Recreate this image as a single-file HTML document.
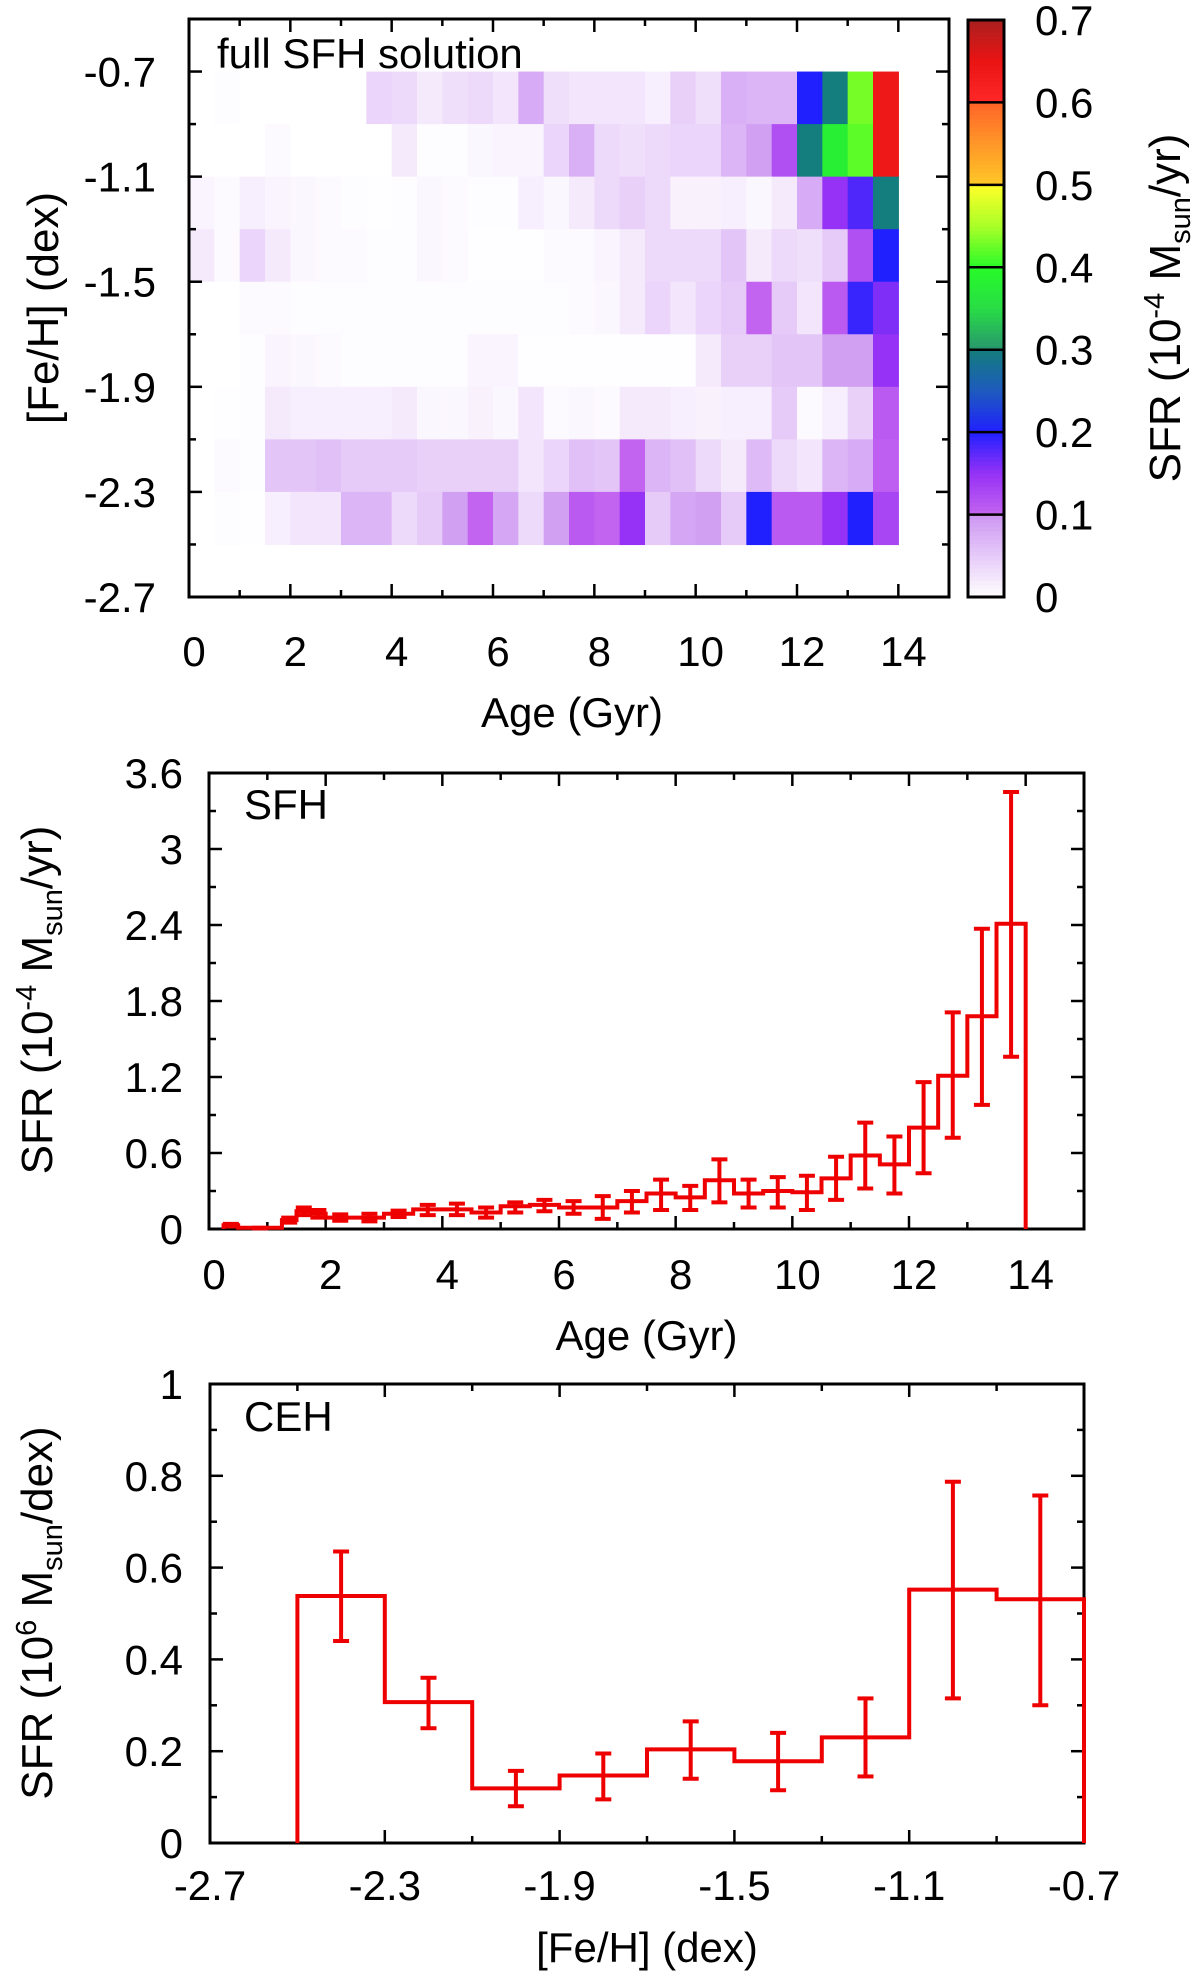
<!DOCTYPE html>
<html><head><meta charset="utf-8"><style>
html,body{margin:0;padding:0;background:#fff;}
svg{display:block;font-family:"Liberation Sans",Arial,sans-serif;}
</style></head><body>
<svg id="fig" width="1200" height="1975" viewBox="0 0 1200 1975" xmlns="http://www.w3.org/2000/svg"></svg>
<script>
// ---------- Panel 1: heatmap data (rows top -> bottom: [Fe/H] -0.7..-0.9 ... -2.3..-2.5; cols 0.5 Gyr bins from 0) ----------
const hmRowTops = [-0.7,-0.9,-1.1,-1.3,-1.5,-1.7,-1.9,-2.1,-2.3];
const hmAgeStart = [0,0.5,1,1.5,2,2.5,3,3.5,4,4.5,5,5.5,6,6.5,7,7.5,8,8.5,9,9.5,10,10.5,11,11.5,12,12.5,13,13.5];
const hmRow0 = [0,0.003,0,0,0,0,0,0.04,0.035,0.02,0.03,0.035,0.025,0.08,0.03,0.025,0.025,0.025,0.015,0.045,0.03,0.075,0.07,0.07,0.2,0.3,0.43,0.64];
const hmRow1 = [0,0,0,0.005,0,0,0,0,0.02,0.003,0.003,0.008,0.01,0.01,0.04,0.075,0.035,0.03,0.035,0.04,0.04,0.07,0.09,0.12,0.3,0.38,0.42,0.64];
const hmRow2 = [0.01,0.005,0.015,0.01,0.008,0.005,0.003,0.002,0.003,0.008,0.005,0.003,0.003,0.015,0.008,0.02,0.035,0.045,0.035,0.012,0.012,0.015,0.008,0.02,0.08,0.15,0.18,0.3];
const hmRow3 = [0.02,0.005,0.04,0.02,0.008,0.005,0.005,0.003,0.003,0.008,0.005,0.002,0.002,0.002,0.005,0.005,0.01,0.02,0.035,0.035,0.035,0.055,0.02,0.035,0.03,0.05,0.12,0.2];
const hmRow4 = [0,0,0.005,0.005,0.003,0.003,0.003,0.003,0.003,0.003,0.003,0.003,0.003,0.003,0.003,0.005,0.008,0.02,0.04,0.025,0.04,0.05,0.1,0.05,0.025,0.11,0.19,0.16];
const hmRow5 = [0,0,0.003,0.01,0.008,0.005,0.003,0.003,0.003,0.003,0.003,0.01,0.01,0.002,0.002,0.002,0.002,0.002,0.002,0.002,0.02,0.045,0.045,0.055,0.055,0.09,0.09,0.15];
const hmRow6 = [0,0.002,0.003,0.02,0.015,0.015,0.015,0.015,0.02,0.008,0.008,0.012,0.008,0.025,0.005,0.008,0.005,0.02,0.02,0.015,0.012,0.015,0.015,0.05,0.005,0.015,0.045,0.11];
const hmRow7 = [0,0.005,0.003,0.055,0.055,0.06,0.05,0.05,0.05,0.045,0.045,0.045,0.045,0.025,0.04,0.06,0.055,0.1,0.07,0.06,0.035,0.02,0.065,0.035,0.025,0.07,0.08,0.105];
const hmRow8 = [0,0.003,0.002,0.015,0.025,0.025,0.07,0.07,0.035,0.05,0.09,0.1,0.085,0.035,0.09,0.11,0.1,0.15,0.05,0.085,0.09,0.05,0.2,0.11,0.11,0.15,0.2,0.13];
const hmRows = [hmRow0,hmRow1,hmRow2,hmRow3,hmRow4,hmRow5,hmRow6,hmRow7,hmRow8];
const p1XTicks = [0,2,4,6,8,10,12,14];
const p1YTicks = [-0.7,-1.1,-1.5,-1.9,-2.3,-2.7];
const cbTicks = [0,0.1,0.2,0.3,0.4,0.5,0.6,0.7];

// ---------- Panel 2: SFH ----------
const sfhLo  = [0.25,0.5,1.25,1.5,1.75,2,2.5,3,3.5,4,4.5,5,5.5,6,6.5,7,7.5,8,8.5,9,9.5,10,10.5,11,11.5,12,12.5,13,13.5];
const sfhHi  = [0.5,1.25,1.5,1.75,2,2.5,3,3.5,4,4.5,5,5.5,6,6.5,7,7.5,8,8.5,9,9.5,10,10.5,11,11.5,12,12.5,13,13.5,14];
const sfhVal = [0.03,0.01,0.07,0.14,0.12,0.09,0.09,0.12,0.155,0.155,0.13,0.18,0.19,0.17,0.17,0.22,0.28,0.25,0.385,0.28,0.30,0.29,0.40,0.58,0.51,0.80,1.21,1.68,2.41];
const sfhErrHi = [0.04,0.01,0.09,0.17,0.15,0.115,0.12,0.145,0.19,0.20,0.17,0.21,0.23,0.22,0.26,0.30,0.39,0.34,0.55,0.39,0.41,0.42,0.57,0.84,0.73,1.16,1.71,2.37,3.45];
const sfhErrLo = [0.02,0.005,0.05,0.11,0.09,0.065,0.06,0.095,0.11,0.11,0.09,0.13,0.14,0.12,0.08,0.13,0.15,0.15,0.21,0.17,0.17,0.15,0.23,0.32,0.28,0.44,0.72,0.98,1.36];
const p2XTicks = [0,2,4,6,8,10,12,14];
const p2YTicks = [0,0.6,1.2,1.8,2.4,3,3.6];
const p2YLabels = ["0","0.6","1.2","1.8","2.4","3","3.6"];

// ---------- Panel 3: CEH ----------
const cehLo  = [-2.5,-2.3,-2.1,-1.9,-1.7,-1.5,-1.3,-1.1,-0.9];
const cehVal = [0.538,0.307,0.119,0.147,0.204,0.178,0.23,0.552,0.531];
const cehErrHi = [0.635,0.36,0.157,0.195,0.265,0.24,0.315,0.787,0.757];
const cehErrLo = [0.44,0.25,0.08,0.095,0.14,0.115,0.145,0.315,0.30];
const p3XTicks = [-2.7,-2.3,-1.9,-1.5,-1.1,-0.7];
const p3YTicks = [0,0.2,0.4,0.6,0.8,1];
const p3YLabels = ["0","0.2","0.4","0.6","0.8","1"];

const NS="http://www.w3.org/2000/svg";
const svg=document.getElementById('fig');
const TS=42, TT=44;
function mk(tag,attrs,parent){const e=document.createElementNS(NS,tag);for(const k in attrs)e.setAttribute(k,attrs[k]);(parent||svg).appendChild(e);return e;}
function grp(name){const g=mk('g',{});return g;}
function txt(g,x,y,s,size,anchor,name){const t=mk('text',{x:x,y:y,'font-size':size,'text-anchor':anchor||'middle',fill:'#000'},g);t.textContent=s;


return t;}
function scale(d0,d1,r0,r1){return v=>r0+(v-d0)/(d1-d0)*(r1-r0);}

function frameTicks(g,L,R,T,B,xs,xmaj,xmin,ys,ymaj,ymin){
  const ML=13,mL=7;
  xmaj.forEach(v=>{const x=xs(v);mk('line',{x1:x,y1:B,x2:x,y2:B-ML,stroke:'#000','stroke-width':2.5},g);mk('line',{x1:x,y1:T,x2:x,y2:T+ML,stroke:'#000','stroke-width':2.5},g);});
  xmin.forEach(v=>{const x=xs(v);mk('line',{x1:x,y1:B,x2:x,y2:B-mL,stroke:'#000','stroke-width':2.5},g);mk('line',{x1:x,y1:T,x2:x,y2:T+mL,stroke:'#000','stroke-width':2.5},g);});
  ymaj.forEach(v=>{const y=ys(v);mk('line',{x1:L,y1:y,x2:L+ML,y2:y,stroke:'#000','stroke-width':2.5},g);mk('line',{x1:R,y1:y,x2:R-ML,y2:y,stroke:'#000','stroke-width':2.5},g);});
  ymin.forEach(v=>{const y=ys(v);mk('line',{x1:L,y1:y,x2:L+mL,y2:y,stroke:'#000','stroke-width':2.5},g);mk('line',{x1:R,y1:y,x2:R-mL,y2:y,stroke:'#000','stroke-width':2.5},g);});
  mk('rect',{x:L,y:T,width:R-L,height:B-T,fill:'none',stroke:'#000','stroke-width':3},g);
}

// colormap
const cmStops=[[0,[255,255,255]],[0.0999,[205,150,242]],[0.1,[195,100,240]],[0.15,[150,50,245]],[0.2,[32,32,255]],[0.25,[30,90,190]],[0.3,[20,125,125]],[0.3001,[40,150,110]],[0.35,[40,220,70]],[0.4,[40,250,40]],[0.45,[170,255,40]],[0.5,[255,255,40]],[0.5001,[255,200,40]],[0.6,[255,100,40]],[0.6001,[255,40,40]],[0.65,[235,20,20]],[0.7,[170,30,30]]];
function cmap(v){v=Math.max(0,Math.min(0.7,v));for(let i=1;i<cmStops.length;i++){const a=cmStops[i-1],b=cmStops[i];if(v<=b[0]){const t=(v-a[0])/(b[0]-a[0]||1);const c=a[1].map((x,j)=>Math.round(x+(b[1][j]-x)*t));return 'rgb('+c.join(',')+')';}}return 'rgb(170,30,30)';}

// ===== Panel 1 =====
(function(){
  const L=189,R=949,T=19,B=597;
  const xs=scale(0,15,L,R), ys=scale(-2.7,-0.5,B,T);
  const g=grp('metallicity-age-heatmap');
  const cells=grp('heatmap-cells');g.appendChild(cells);
  hmRows.forEach((row,ri)=>{
    const y0=ys(hmRowTops[ri]), y1=ys(hmRowTops[ri]-0.2);
    row.forEach((v,ci)=>{
      const x0=xs(hmAgeStart[ci]), x1=xs(hmAgeStart[ci]+0.5);
      const r=mk('rect',{x:x0,y:y0,width:x1-x0+0.6,height:y1-y0+0.6,fill:cmap(v)},cells);
      
      
    });
  });
  const ax=grp('heatmap-axes');g.appendChild(ax);
  frameTicks(ax,L,R,T,B,xs,[0,2,4,6,8,10,12,14],[1,3,5,7,9,11,13],ys,[-0.7,-1.1,-1.5,-1.9,-2.3],[-0.9,-1.3,-1.7,-2.1,-2.5]);
  p1XTicks.forEach(v=>txt(ax,xs(v)+5,666,String(v),TS,'middle','x-tick-label'));
  p1YTicks.forEach(v=>txt(ax,156,ys(v)+15,String(v),TS,'end','y-tick-label'));
  txt(ax,(L+R)/2+3,727,'Age (Gyr)',TS,'middle','x-axis-title');
  const yt=txt(ax,0,0,'[Fe/H] (dex)',TT,'middle','y-axis-title');yt.setAttribute('transform','translate(58,308) rotate(-90)');
  txt(ax,217,68,'full SFH solution',TS,'start','panel-label');
  // colorbar
  const cb=grp('colorbar');g.appendChild(cb);
  const cx=961+7,cw=36,cs=scale(0,0.7,597,20);
  for(let i=0;i<140;i++){const v0=i*0.005;const y0=cs(v0+0.005),y1=cs(v0);
    const r=mk('rect',{x:cx,y:y0,width:cw,height:y1-y0+0.5,fill:cmap(v0+0.0025)},cb);
    
    
  }
  cbTicks.forEach(v=>{if(v>0&&v<0.7){mk('line',{x1:cx,y1:cs(v),x2:cx+cw,y2:cs(v),stroke:'#000','stroke-width':2.5},cb);}
    txt(cb,1035,cs(v)+15,String(v),TS,'start','colorbar-tick-label');});
  mk('rect',{x:cx,y:cs(0.7),width:cw,height:cs(0)-cs(0.7),fill:'none',stroke:'#000','stroke-width':3},cb);
  const ct=mk('text',{'font-size':TT,'text-anchor':'middle',transform:'translate(1180,308) rotate(-90)'},cb);
  
  
  ct.innerHTML='SFR (10<tspan dy="-16" font-size="29">-4</tspan><tspan dy="16"> M</tspan><tspan dy="10" font-size="29">sun</tspan><tspan dy="-10">/yr)</tspan>';
})();

// ===== Panel 2 =====
(function(){
  const L=209,R=1084,T=773,B=1229;
  const xs=scale(0,15,L,R), ys=scale(0,3.6,B,T);
  const g=grp('sfh-panel');
  const ax=grp('sfh-axes');g.appendChild(ax);
  frameTicks(ax,L,R,T,B,xs,[0,2,4,6,8,10,12,14],[1,3,5,7,9,11,13],ys,p2YTicks,[0.3,0.9,1.5,2.1,2.7,3.3]);
  p2XTicks.forEach(v=>txt(ax,xs(v)+5,1289,String(v),TS,'middle','x-tick-label'));
  p2YTicks.forEach((v,i)=>txt(ax,183,ys(v)+15,p2YLabels[i],TS,'end','y-tick-label'));
  txt(ax,(L+R)/2,1350,'Age (Gyr)',TS,'middle','x-axis-title');
  const yt=mk('text',{'font-size':TT,'text-anchor':'middle',transform:'translate(52,1000) rotate(-90)'},ax);
  
  
  yt.innerHTML='SFR (10<tspan dy="-16" font-size="29">-4</tspan><tspan dy="16"> M</tspan><tspan dy="10" font-size="29">sun</tspan><tspan dy="-10">/yr)</tspan>';
  txt(ax,244,819,'SFH',TS,'start','panel-label');
  const s=grp('sfh-series');g.appendChild(s);
  let d='M'+xs(sfhLo[0])+','+ys(0);
  sfhVal.forEach((v,i)=>{d+=' L'+xs(sfhLo[i])+','+ys(v)+' L'+xs(sfhHi[i])+','+ys(v);});
  d+=' L'+xs(sfhHi[sfhHi.length-1])+','+ys(0);
  const p=mk('path',{d:d,fill:'none',stroke:'#ee0000','stroke-width':4},s);
  
  
  sfhVal.forEach((v,i)=>{const xc=xs((sfhLo[i]+sfhHi[i])/2);
    const e=grp('sfh-errorbar');s.appendChild(e);
    mk('line',{x1:xc,y1:ys(sfhErrLo[i]),x2:xc,y2:ys(sfhErrHi[i]),stroke:'#ee0000','stroke-width':4},e);
    mk('line',{x1:xc-8,y1:ys(sfhErrLo[i]),x2:xc+8,y2:ys(sfhErrLo[i]),stroke:'#ee0000','stroke-width':4},e);
    mk('line',{x1:xc-8,y1:ys(sfhErrHi[i]),x2:xc+8,y2:ys(sfhErrHi[i]),stroke:'#ee0000','stroke-width':4},e);
  });
})();

// ===== Panel 3 =====
(function(){
  const L=210,R=1084,T=1384,B=1843;
  const xs=scale(-2.7,-0.7,L,R), ys=scale(0,1,B,T);
  const g=grp('ceh-panel');
  const ax=grp('ceh-axes');g.appendChild(ax);
  frameTicks(ax,L,R,T,B,xs,p3XTicks,[-2.5,-2.1,-1.7,-1.3,-0.9],ys,p3YTicks,[0.1,0.3,0.5,0.7,0.9]);
  p3XTicks.forEach(v=>txt(ax,xs(v),1900,String(v),TS,'middle','x-tick-label'));
  p3YTicks.forEach((v,i)=>txt(ax,183,ys(v)+15,p3YLabels[i],TS,'end','y-tick-label'));
  txt(ax,(L+R)/2,1962,'[Fe/H] (dex)',TS,'middle','x-axis-title');
  const yt=mk('text',{'font-size':TT,'text-anchor':'middle',transform:'translate(52,1613) rotate(-90)'},ax);
  
  
  yt.innerHTML='SFR (10<tspan dy="-16" font-size="29">6</tspan><tspan dy="16"> M</tspan><tspan dy="10" font-size="29">sun</tspan><tspan dy="-10">/dex)</tspan>';
  txt(ax,244,1431,'CEH',TS,'start','panel-label');
  const s=grp('ceh-series');g.appendChild(s);
  let d='M'+xs(cehLo[0])+','+ys(0);
  cehVal.forEach((v,i)=>{d+=' L'+xs(cehLo[i])+','+ys(v)+' L'+xs(cehLo[i]+0.2)+','+ys(v);});
  d+=' L'+xs(cehLo[cehLo.length-1]+0.2)+','+ys(0);
  const p=mk('path',{d:d,fill:'none',stroke:'#ee0000','stroke-width':4},s);
  
  
  cehVal.forEach((v,i)=>{const xc=xs(cehLo[i]+0.1);
    const e=grp('ceh-errorbar');s.appendChild(e);
    mk('line',{x1:xc,y1:ys(cehErrLo[i]),x2:xc,y2:ys(cehErrHi[i]),stroke:'#ee0000','stroke-width':4},e);
    mk('line',{x1:xc-8,y1:ys(cehErrLo[i]),x2:xc+8,y2:ys(cehErrLo[i]),stroke:'#ee0000','stroke-width':4},e);
    mk('line',{x1:xc-8,y1:ys(cehErrHi[i]),x2:xc+8,y2:ys(cehErrHi[i]),stroke:'#ee0000','stroke-width':4},e);
  });
})();
</script>
</body></html>
